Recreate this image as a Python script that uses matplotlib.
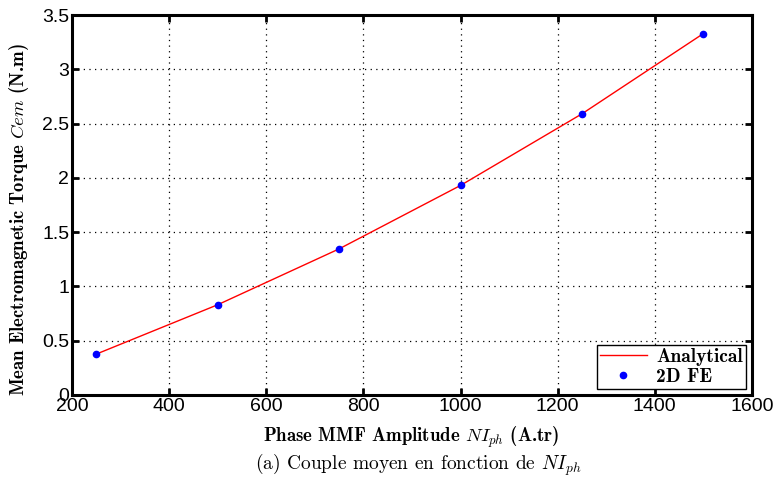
import matplotlib.pyplot as plt
import numpy as np

# phase MMF amplitude (A.tr)
ni_ph = [250, 500, 750, 1000, 1250, 1500]
# mean torque (N.m)
torque_analytical = [0.375, 0.83, 1.345, 1.93, 2.59, 3.33]
torque_fe = [0.38, 0.83, 1.34, 1.93, 2.59, 3.33]

xticks = [200, 400, 600, 800, 1000, 1200, 1400, 1600]
yticks = [0, 0.5, 1, 1.5, 2, 2.5, 3, 3.5]
yticklabels = ['0', '0.5', '1', '1.5', '2', '2.5', '3', '3.5']

plt.rcParams['mathtext.fontset'] = 'cm'

fig = plt.figure(figsize=(7.78, 4.88), dpi=100)
ax = fig.add_axes([0.0925, 0.191, 0.874, 0.778])

ax.plot(ni_ph, torque_analytical, color='red', lw=1.0, label='Analytical')
ax.plot(ni_ph, torque_fe, ls='none', marker='o', ms=4.5, color='blue', label='2D FE')

ax.set_xlim(200, 1600)
ax.set_ylim(0, 3.5)
ax.set_xticks(xticks)
ax.set_yticks(yticks)
ax.set_yticklabels(yticklabels)
for lab in ax.get_xticklabels() + ax.get_yticklabels():
    lab.set_family('Liberation Sans')
    lab.set_fontsize(14)

ax.grid(True, ls=(0, (1, 3.5)), color='black', lw=0.9)
ax.tick_params(direction='in', length=5, width=2, top=True, right=True, pad=2)
for sp in ax.spines.values():
    sp.set_linewidth(2.2)

# axis labels placed like the original (MATLAB export)
fig.text(411 / 778, 1 - 437 / 488, r'Phase MMF Amplitude $NI_{ph}$ (A.tr)',
         family='cmb10', fontsize=13.5, ha='center', va='center')
fig.text(19 / 778, 1 - 220 / 488, r'Mean Electromagnetic Torque $Cem$ (N.m)',
         family='cmb10', fontsize=13.5, ha='center', va='center', rotation=90)

leg = ax.legend(loc='lower right', prop={'family': 'cmb10', 'size': 14},
                fancybox=False, framealpha=1, edgecolor='black',
                borderaxespad=0.3, handlelength=2.4, borderpad=0.15,
                labelspacing=0.1, handletextpad=0.5)
leg.get_frame().set_linewidth(1.0)

fig.text(418 / 778, 1 - 465 / 488, r'(a) Couple moyen en fonction de $NI_{ph}$',
         family='cmr10', fontsize=14, ha='center', va='center')

fig.savefig('out.png', dpi=100)
